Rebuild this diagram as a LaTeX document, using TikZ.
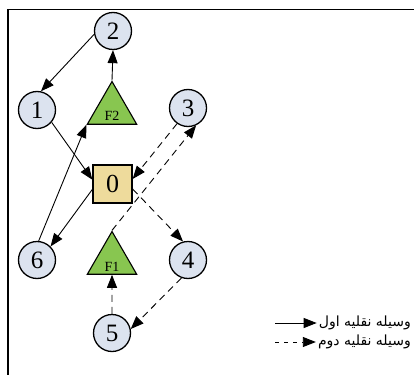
\documentclass[tikz,border=0pt]{standalone}
\usepackage{fontspec}
\setmainfont{Liberation Serif}
\newfontfamily\arabicfont[Script=Arabic]{DejaVu Sans}
\TeXXeTstate=1
\usetikzlibrary{arrows.meta,shapes.geometric}
\definecolor{circfill}{HTML}{DCE3EF}
\definecolor{boxfill}{HTML}{EEDB9C}
\definecolor{trifill}{HTML}{88C650}
\newcommand{\faclabel}[1]{\raisebox{-11pt}[0pt][0pt]{#1}}
\tikzset{
  cnode/.style={circle,draw,line width=1.3pt,fill=circfill,minimum size=37pt,inner sep=0pt,font=\fontsize{25}{25}\selectfont},
  depot/.style={rectangle,draw,line width=1.3pt,fill=boxfill,minimum width=39pt,minimum height=38pt,inner sep=0pt,font=\fontsize{26}{26}\selectfont},
  fac/.style={regular polygon,regular polygon sides=3,draw,line width=1.1pt,fill=trifill,minimum size=57pt,inner sep=0pt,font=\fontsize{14}{14}\selectfont},
  vone/.style={line width=0.9pt,-{Triangle[length=13pt,width=10pt]}},
  vtwo/.style={line width=0.9pt,dash pattern=on 7pt off 5pt,-{Triangle[length=13pt,width=10pt]}},
  legtext/.style={font=\arabicfont\fontsize{14}{14}\selectfont,inner sep=0pt}
}
\begin{document}
\begin{tikzpicture}[x=1pt,y=-1pt]
\useasboundingbox (0,0) rectangle (414,374);
\draw[line width=1.4pt] (8,380) -- (8,9.5) -- (420,9.5);
\node[cnode] (n2) at (113,31) {2};
\node[cnode] (n1) at (37,110) {1};
\node[cnode] (n3) at (188,108) {3};
\node[cnode] (n6) at (37,260) {6};
\node[cnode] (n4) at (188,260) {4};
\node[cnode] (n5) at (112,333) {5};
\node[depot] (n0) at (112.5,184) {0};
\node[fac] (f2) at (112,110) {\faclabel{F2}};
\node[fac] (f1) at (112,260) {\faclabel{F1}};
% vehicle one
\draw[vone] (n2.190) -- (n1.78);
\draw[vone] (f2.corner 1) -- (n2.south);
\draw[vone] (n1.-40) -- (n0.168);
\draw[vone] (n6.85) -- (f2.corner 2);
\draw[vone] (n0.195) -- (n6.45);
% vehicle two
\draw[vtwo] (n3.235) -- (n0.14);
\draw[vtwo] (f1.corner 1) -- (n3.-65);
\draw[vtwo] (n0.-14) -- (n4.105);
\draw[vtwo] (n4.250) -- (n5.12);
\draw[vtwo] (n5.north) -- (f1.south);
% legend
\node[legtext,anchor=east] (l1) at (411,323) {\beginR وسیله نقلیه اول\endR};
\node[legtext,anchor=east] (l2) at (411,342) {\beginR وسیله نقلیه دوم\endR};
\coordinate (s1) at (275,323);
\coordinate (s2) at (275,342);
\draw[vone] (s1) -- ([xshift=-2pt]l1.west);
\draw[line width=0.9pt,dash pattern=on 4pt off 5pt,-{Triangle[length=13pt,width=10pt]}] (s2) -- ([xshift=-2pt]l2.west);
\end{tikzpicture}
\end{document}
